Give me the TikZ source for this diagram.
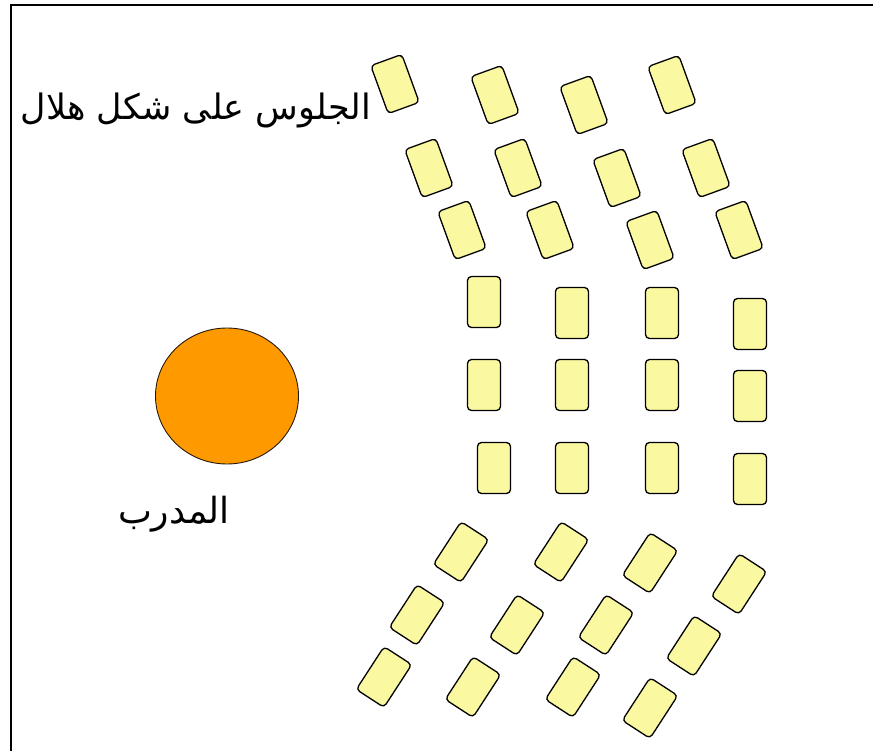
\documentclass[tikz,border=0pt]{standalone}
\usepackage{fontspec}
\usepackage{xcolor}
\usepackage{tikz}
\usetikzlibrary{shapes.geometric}
\TeXXeTstate=1
\newfontfamily\arabicfont[Script=Arabic]{DejaVu Sans}
\definecolor{seatfill}{HTML}{FAF8A0}
\definecolor{trainerfill}{HTML}{FF9900}

\begin{document}
\begin{tikzpicture}[
  x=1pt,y=-1pt,
  seat/.style={draw=black,line width=1.3pt,rounded corners=4pt,fill=seatfill,
    minimum width=33pt,minimum height=51pt,inner sep=0pt},
  trainer/.style={ellipse,draw=black!80!brown,line width=0.9pt,fill=trainerfill,
    minimum width=143pt,minimum height=136pt,inner sep=0pt},
  label/.style={font=\arabicfont\fontsize{35}{40}\selectfont,inner sep=0pt}
]
\useasboundingbox (0,0) rectangle (873,751);
% frame
\draw[line width=1.6pt] (873,5) -- (11,5) -- (11,751);
% upper rows, turned left
\foreach \x/\y [count=\i] in {395/84,495/95,584/105,672/85}
  \node[seat,rotate=20] (a\i) at (\x,\y) {};
\foreach \x/\y [count=\i] in {429/168,518/168,617/178,706/168}
  \node[seat,rotate=20] (b\i) at (\x,\y) {};
\foreach \x/\y [count=\i] in {462/230,550/230,650/240,739/230}
  \node[seat,rotate=20] (c\i) at (\x,\y) {};
% middle rows, upright
\foreach \x/\y [count=\i] in {484/302,572/313,662/313,750/324}
  \node[seat] (d\i) at (\x,\y) {};
\foreach \x/\y [count=\i] in {484/385,572/385,662/385,750/396}
  \node[seat] (e\i) at (\x,\y) {};
\foreach \x/\y [count=\i] in {494/468,572/468,662/468,750/479}
  \node[seat] (f\i) at (\x,\y) {};
% lower rows, turned right
\foreach \x/\y [count=\i] in {461/552,561/552,650/563,739/584}
  \node[seat,rotate=-33] (g\i) at (\x,\y) {};
\foreach \x/\y [count=\i] in {417/615,517/625,606/625,694/646}
  \node[seat,rotate=-33] (h\i) at (\x,\y) {};
\foreach \x/\y [count=\i] in {384/677,473/687,573/687,650/708}
  \node[seat,rotate=-33] (k\i) at (\x,\y) {};
% trainer
\node[trainer] (coach) at (227,396) {};
\node[label] (title) at (196,110) {\beginR الجلوس على شكل هلال\endR};
\node[label,font=\arabicfont\fontsize{36}{40}\selectfont] (coachname) at (174,514) {\beginR المدرب\endR};
\end{tikzpicture}
\end{document}
